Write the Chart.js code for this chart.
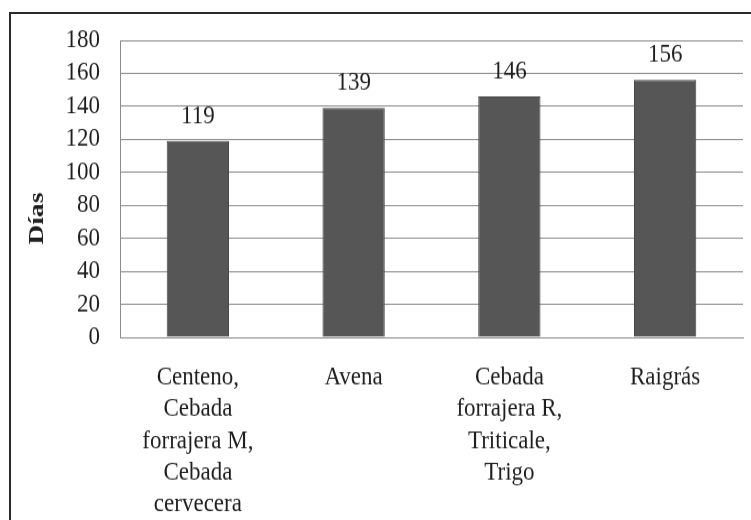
<!DOCTYPE html>
<html>
<head>
<meta charset="utf-8">
<script src="https://cdn.jsdelivr.net/npm/chart.js@4/dist/chart.umd.min.js"></script>
<style>
    html, body { margin: 0; padding: 0; background: #fff; overflow: hidden; }
    #wrap { position: relative; width: 751px; height: 520px; overflow: hidden; }
    #frame {
        position: absolute; left: 9px; top: 12px;
        width: 900px; height: 700px;
        border: 2px solid #2a2a2a;
    }
    /* the scanned original is slightly stretched vertically */
    #stretch {
        position: absolute; left: 0; top: 0;
        width: 751px; height: 464px;
        transform: scale(1, 1.1207);
        transform-origin: 0 0;
    }
</style>
</head>
<body>
<div id="wrap">
    <div id="frame"></div>
    <div id="stretch">
        <canvas id="chart" width="751" height="464"></canvas>
    </div>
</div>
<script>
// Data
const categories = [
    ['Centeno,', 'Cebada', 'forrajera M,', 'Cebada', 'cervecera'],
    ['Avena'],
    ['Cebada', 'forrajera R,', 'Triticale,', 'Trigo'],
    ['Raigrás']
];
const days = [119, 139, 146, 156];
const yTicks = [0, 20, 40, 60, 80, 100, 120, 140, 160, 180];
const yTitle = 'Días';

const serif = '"Liberation Serif", "Times New Roman", serif';
const textColor = '#1e1e1e';
const gridColor = '#8c8c8c';

/**
 * Value above every bar, plus the rotated axis title
 */
const extraText = {
    id: 'extraText',
    afterDatasetsDraw(chart) {
        const ctx = chart.ctx;
        const meta = chart.getDatasetMeta(0);
        ctx.save();
        ctx.font = '23px ' + serif;
        ctx.fillStyle = textColor;
        ctx.textAlign = 'center';
        ctx.textBaseline = 'middle';
        meta.data.forEach((bar, i) => {
            ctx.fillText(String(days[i]), bar.x, bar.y - 22);
        });
        ctx.restore();

        // axis title, placed a bit below the middle like the original
        const area = chart.chartArea;
        ctx.save();
        ctx.translate(37, area.top + (area.bottom - area.top) * 0.6);
        ctx.rotate(-Math.PI / 2);
        ctx.scale(1.12, 1);
        ctx.font = 'bold 22px ' + serif;
        ctx.fillStyle = textColor;
        ctx.textAlign = 'center';
        ctx.textBaseline = 'middle';
        ctx.fillText(yTitle, 0, 0);
        ctx.restore();
    }
};

new Chart(document.getElementById('chart'), {
    type: 'bar',
    data: {
        labels: categories,
        datasets: [{
            data: days,
            backgroundColor: '#565656',
            borderColor: '#474747',
            borderWidth: 1,
            categoryPercentage: 1,
            barPercentage: 0.4
        }]
    },
    options: {
        responsive: false,
        animation: false,
        devicePixelRatio: 1,
        layout: { padding: { top: 36, right: 8, left: 0, bottom: 0 } },
        plugins: {
            legend: { display: false },
            tooltip: { enabled: false }
        },
        scales: {
            x: {
                grid: { display: false, drawTicks: false },
                border: { display: true, color: gridColor, width: 1 },
                ticks: {
                    color: textColor,
                    font: { family: serif, size: 23, lineHeight: 1.23 },
                    padding: 22,
                    maxRotation: 0,
                    autoSkip: false
                },
                afterFit(scale) { scale.height = 163; }
            },
            y: {
                min: 0,
                max: 180,
                afterBuildTicks(scale) {
                    scale.ticks = yTicks.map(v => ({ value: v }));
                },
                grid: { color: gridColor, lineWidth: 1, drawTicks: false },
                border: { display: true, color: gridColor, width: 1 },
                ticks: {
                    color: textColor,
                    font: { family: serif, size: 23 },
                    padding: 20,
                    autoSkip: false
                },
                afterFit(scale) { scale.width = 120; }
            }
        }
    },
    plugins: [extraText]
});
</script>
</body>
</html>
